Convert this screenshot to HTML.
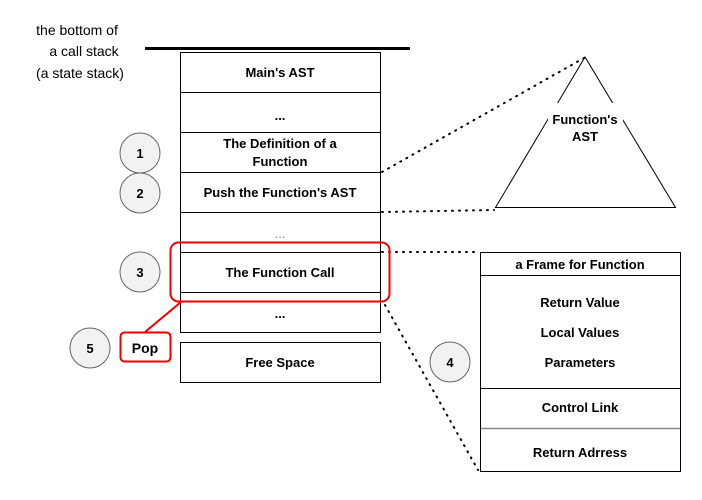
<!DOCTYPE html>
<html><head><meta charset="utf-8"><style>
body{margin:0;background:#fff;}
svg text{font-family:"Liberation Sans",Arial,sans-serif;font-size:13px;fill:#000;}
.b{font-weight:bold;}
</style></head><body>
<svg width="702" height="495" viewBox="0 0 702 495" xmlns="http://www.w3.org/2000/svg">
<rect width="702" height="495" fill="#fff"/>
<text x="77" y="35" text-anchor="middle" style="font-size:14px">the bottom of</text>
<text x="84" y="56" text-anchor="middle" style="font-size:14px">a call stack</text>
<text x="80" y="78" text-anchor="middle" style="font-size:14px">(a state stack)</text>
<line x1="145" y1="48.5" x2="410" y2="48.5" stroke="#000" stroke-width="3"/>
<g fill="none" stroke="#000" stroke-width="1">
<rect x="180.5" y="52.5" width="200" height="280"/>
<line x1="180" y1="92.5" x2="381" y2="92.5"/>
<line x1="180" y1="132.5" x2="381" y2="132.5"/>
<line x1="180" y1="172.5" x2="381" y2="172.5"/>
<line x1="180" y1="212.5" x2="381" y2="212.5"/>
<line x1="180" y1="252.5" x2="381" y2="252.5"/>
<line x1="180" y1="292.5" x2="381" y2="292.5"/>
<rect x="180.5" y="342.5" width="200" height="40"/>
<path d="M495.5 207.5 L585 57 L675.5 207.5 Z"/>
<rect x="480.5" y="252.5" width="200" height="219"/>
<line x1="480" y1="275.5" x2="681" y2="275.5"/>
<line x1="480" y1="388.5" x2="681" y2="388.5"/>
</g>
<line x1="481" y1="428.5" x2="680" y2="428.5" stroke="#888" stroke-width="1.5"/>
<rect x="548" y="103" width="75" height="44" fill="#fff"/>
<g stroke="#000" stroke-width="2" stroke-dasharray="1 6" stroke-linecap="round" fill="none">
<line x1="382" y1="172" x2="584" y2="58"/>
<line x1="382" y1="212" x2="494" y2="210"/>
<line x1="382" y1="252" x2="479" y2="252"/>
<line x1="385" y1="305" x2="478" y2="470"/>
</g>
<text class="b" x="280" y="77" text-anchor="middle">Main's AST</text>
<text class="b" x="280" y="120" text-anchor="middle">...</text>
<text class="b" x="280" y="148" text-anchor="middle">The Definition of a</text>
<text class="b" x="280" y="166" text-anchor="middle">Function</text>
<text class="b" x="280" y="197" text-anchor="middle">Push the Function's AST</text>
<text x="280" y="238" text-anchor="middle" style="fill:#888">...</text>
<text class="b" x="280" y="277" text-anchor="middle">The Function Call</text>
<text class="b" x="280" y="318" text-anchor="middle">...</text>
<text class="b" x="280" y="367" text-anchor="middle">Free Space</text>
<text class="b" x="585" y="124" text-anchor="middle">Function's</text>
<text class="b" x="585" y="141" text-anchor="middle">AST</text>
<text class="b" x="580" y="269" text-anchor="middle">a Frame for Function</text>
<text class="b" x="580" y="307" text-anchor="middle">Return Value</text>
<text class="b" x="580" y="337" text-anchor="middle">Local Values</text>
<text class="b" x="580" y="367" text-anchor="middle">Parameters</text>
<text class="b" x="580" y="412" text-anchor="middle">Control Link</text>
<text class="b" x="580" y="457" text-anchor="middle">Return Adrress</text>
<rect x="170.5" y="242.5" width="219" height="59" rx="8" fill="none" stroke="#e00" stroke-width="2"/>
<line x1="181" y1="302" x2="145" y2="332" stroke="#e00" stroke-width="2"/>
<rect x="120.5" y="332.5" width="50" height="29" rx="4" fill="#fff" stroke="#e00" stroke-width="2"/>
<text class="b" x="145" y="353" text-anchor="middle" style="font-size:14px">Pop</text>
<g fill="#f2f2f2" stroke="#666" stroke-width="1">
<circle cx="140" cy="153" r="20"/>
<circle cx="140" cy="193" r="20"/>
<circle cx="140" cy="272" r="20"/>
<circle cx="90" cy="348" r="20"/>
<circle cx="450" cy="362" r="20"/>
</g>
<text class="b" x="140" y="158" text-anchor="middle">1</text>
<text class="b" x="140" y="198" text-anchor="middle">2</text>
<text class="b" x="140" y="277" text-anchor="middle">3</text>
<text class="b" x="90" y="353" text-anchor="middle">5</text>
<text class="b" x="450" y="367" text-anchor="middle">4</text>
</svg>
</body></html>
